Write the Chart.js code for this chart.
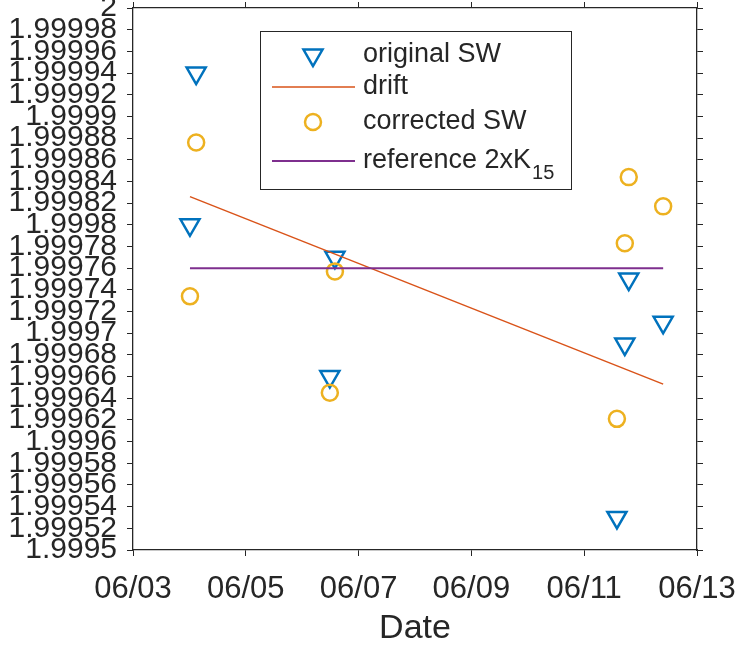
<!DOCTYPE html>
<html>
<head>
<meta charset="utf-8">
<script src="https://cdn.jsdelivr.net/npm/chart.js@4/dist/chart.umd.min.js"></script>
<style>
  html, body { margin: 0; padding: 0; background: #fff; }
  #wrap { width: 735px; height: 646px; }
</style>
</head>
<body>
<div id="wrap"><canvas id="swChart" width="735" height="646"></canvas></div>
<script>
// measurement days (day of June) and values
const origDays = [4.12, 4.01, 6.58, 6.49, 11.79, 12.40, 11.72, 11.58];
const origSW = [1.99994, 1.9998, 1.99977, 1.99966, 1.99975, 1.99971, 1.99969, 1.99953];

const corrDays = [4.12, 4.01, 6.58, 6.49, 11.79, 12.40, 11.72, 11.58];
const corrSW = [1.999876, 1.999734, 1.999757, 1.999645, 1.999844, 1.999817, 1.999783, 1.999621];

const driftDays = [4.01, 12.40];
const driftVals = [1.999826, 1.999653];

const refDays = [4.01, 12.40];
const refVals = [1.99976, 1.99976];

const xTicks = [3, 5, 7, 9, 11, 13];
const yMin = 1.9995, yMax = 2, yStep = 0.00002;

const axisColor = "#262626";
const fontFamily = "'Liberation Sans', Arial, Helvetica, sans-serif";

function pts(xs, ys) {
  return xs.map((x, i) => ({ x: x, y: ys[i] }));
}

function dayLabel(v) {
  return "06/" + String(Math.round(v)).padStart(2, "0");
}

// legend box drawn inside the axes, MATLAB style
const boxLegend = {
  id: "boxLegend",
  afterDatasetsDraw(chart) {
    const ctx = chart.ctx;
    const area = chart.chartArea;
    const x0 = area.left + 127, y0 = area.top + 23, w = 311, h = 158;
    ctx.save();
    ctx.fillStyle = "#fff";
    ctx.fillRect(x0, y0, w, h);
    ctx.strokeStyle = axisColor;
    ctx.lineWidth = 1;
    ctx.strokeRect(x0 + 0.5, y0 + 0.5, w, h);

    const rowY = [y0 + 24, y0 + 56, y0 + 91, y0 + 130];
    const symX = x0 + 53, lineX1 = x0 + 12, lineX2 = x0 + 95, textX = x0 + 103;
    const mainFont = "27px " + fontFamily;
    ctx.font = mainFont;
    ctx.textBaseline = "middle";

    chart.data.datasets.forEach((ds, i) => {
      const y = rowY[i];
      if (ds.showLine) {
        ctx.strokeStyle = ds.borderColor;
        ctx.lineWidth = ds.borderWidth;
        ctx.beginPath();
        ctx.moveTo(lineX1, y);
        ctx.lineTo(lineX2, y);
        ctx.stroke();
      } else {
        ctx.strokeStyle = ds.pointBorderColor;
        ctx.fillStyle = "rgba(0,0,0,0)";
        ctx.lineWidth = ds.pointBorderWidth;
        Chart.helpers.drawPoint(ctx, {
          pointStyle: ds.pointStyle,
          rotation: ds.pointRotation || 0,
          radius: ds.pointRadius,
          borderWidth: ds.pointBorderWidth
        }, symX, y);
      }
      ctx.fillStyle = axisColor;
      ctx.fillText(ds.label, textX, y);
      if (ds.subscript) {
        const tw = ctx.measureText(ds.label).width;
        ctx.font = "20px " + fontFamily;
        ctx.fillText(ds.subscript, textX + tw + 1, y + 12);
        ctx.font = mainFont;
      }
    });
    ctx.restore();
  }
};

const tickGrid = {
  display: true,
  drawOnChartArea: false,
  drawTicks: true,
  tickLength: 6,
  color: axisColor,
  lineWidth: 1
};
const axisBorder = { display: true, color: axisColor, width: 1.3 };

// keep the axes box fixed: no extra room for overhanging end labels
function noEdgePadding(axis) {
  axis.paddingTop = 0;
  axis.paddingBottom = 0;
  axis.paddingLeft = 0;
  axis.paddingRight = 0;
}

new Chart(document.getElementById("swChart"), {
  type: "scatter",
  data: {
    datasets: [
      {
        label: "original SW",
        data: pts(origDays, origSW),
        showLine: false,
        pointStyle: "triangle",
        pointRotation: 180,
        pointRadius: 11,
        pointBorderWidth: 2.5,
        pointBorderColor: "#0072BD",
        pointBackgroundColor: "rgba(0,0,0,0)",
        order: 4
      },
      {
        label: "drift",
        data: pts(driftDays, driftVals),
        showLine: true,
        borderColor: "#D95319",
        borderWidth: 1.5,
        pointRadius: 0,
        order: 3
      },
      {
        label: "corrected SW",
        data: pts(corrDays, corrSW),
        showLine: false,
        pointStyle: "circle",
        pointRadius: 8,
        pointBorderWidth: 2.5,
        pointBorderColor: "#EDB120",
        pointBackgroundColor: "rgba(0,0,0,0)",
        order: 2
      },
      {
        label: "reference 2xK",
        subscript: "15",
        data: pts(refDays, refVals),
        showLine: true,
        borderColor: "#7E2F8E",
        borderWidth: 2,
        pointRadius: 0,
        order: 1
      }
    ]
  },
  options: {
    responsive: false,
    animation: false,
    layout: { padding: 0, autoPadding: false },
    plugins: {
      legend: { display: false },
      tooltip: { enabled: false }
    },
    scales: {
      x: {
        type: "linear",
        position: "bottom",
        min: xTicks[0],
        max: xTicks[xTicks.length - 1],
        afterBuildTicks: (axis) => { axis.ticks = xTicks.map(v => ({ value: v })); },
        afterFit: (axis) => { axis.height = 96; noEdgePadding(axis); },
        grid: tickGrid,
        border: axisBorder,
        ticks: {
          maxRotation: 0,
          autoSkip: false,
          padding: 15,
          color: axisColor,
          font: { family: fontFamily, size: 31 },
          callback: (v) => dayLabel(v)
        },
        title: {
          display: true,
          text: "Date",
          color: axisColor,
          font: { family: fontFamily, size: 34, lineHeight: 1 },
          padding: { top: 0, bottom: 0 }
        }
      },
      x2: {
        type: "linear",
        position: "top",
        min: xTicks[0],
        max: xTicks[xTicks.length - 1],
        afterBuildTicks: (axis) => { axis.ticks = xTicks.map(v => ({ value: v })); },
        afterFit: (axis) => { axis.height = 8; noEdgePadding(axis); },
        grid: tickGrid,
        border: axisBorder,
        ticks: { display: false }
      },
      y: {
        type: "linear",
        position: "left",
        min: yMin,
        max: yMax,
        afterFit: (axis) => { axis.width = 133; noEdgePadding(axis); },
        grid: tickGrid,
        border: axisBorder,
        ticks: {
          stepSize: yStep,
          autoSkip: false,
          padding: 10,
          color: axisColor,
          font: { family: fontFamily, size: 30 },
          callback: (v) => String(Number(v.toFixed(5)))
        }
      },
      y2: {
        type: "linear",
        position: "right",
        min: yMin,
        max: yMax,
        afterFit: (axis) => { axis.width = 38; noEdgePadding(axis); },
        grid: tickGrid,
        border: axisBorder,
        ticks: { stepSize: yStep, display: false }
      }
    }
  },
  plugins: [boxLegend]
});
</script>
</body>
</html>
